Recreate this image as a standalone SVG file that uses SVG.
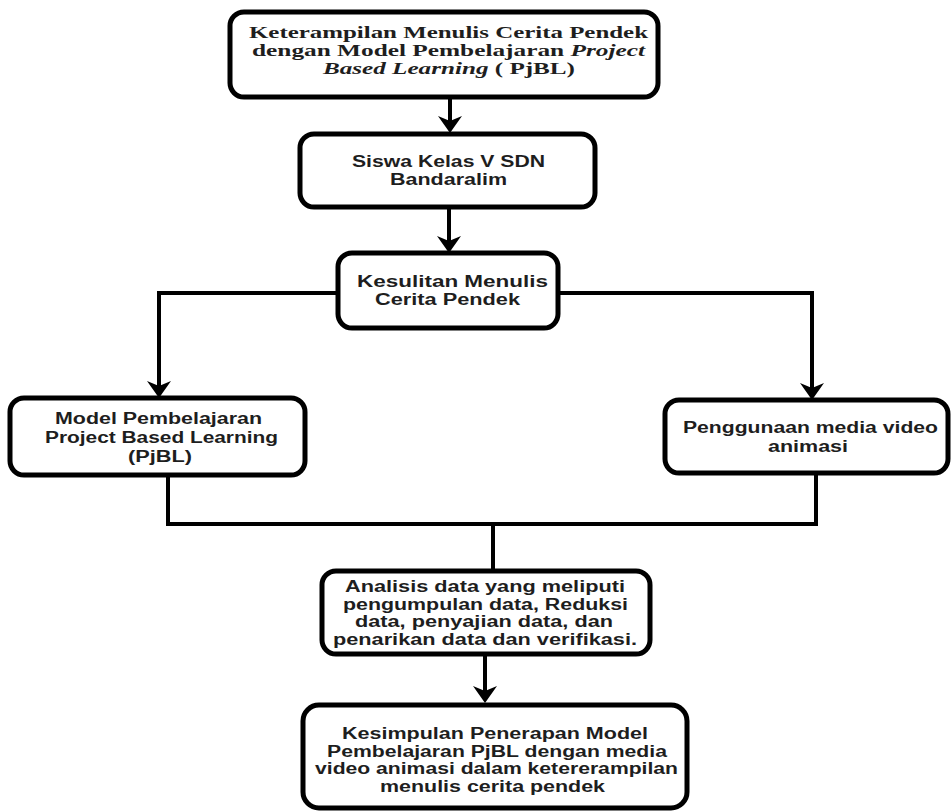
<svg xmlns="http://www.w3.org/2000/svg" width="951" height="812" viewBox="0 0 951 812">
<style>
.box{fill:#fff;stroke:#000;stroke-width:5}
.t{font-family:"Liberation Sans",Arial,sans-serif;font-weight:bold;font-size:16px;fill:#1e1e1e}
.s{font-family:"Liberation Serif","Times New Roman",serif;font-weight:bold;font-size:17px;fill:#1e1e1e}
.c{fill:none;stroke:#000;stroke-width:4}
.a{fill:none;stroke:#000;stroke-width:4;marker-end:url(#ah)}
</style>
<defs>
<marker id="ah" markerUnits="userSpaceOnUse" viewBox="0 -12 17 24" refX="5" refY="0" markerWidth="17" markerHeight="24" orient="auto">
<path d="M17,0 L0,-12 L5,0 L0,12 Z" fill="#000"/>
</marker>
</defs>
<rect width="951" height="812" fill="#fff"/>
<g id="connectors">
<line class="a" x1="450" y1="97" x2="450" y2="121"/>
<line class="a" x1="449" y1="207" x2="449" y2="241"/>
<polyline class="a" points="338,293 159,293 159,386"/>
<polyline class="a" points="558,293 812,293 812,388"/>
<polyline class="c" points="168,474 168,524 816,524 816,474"/>
<line class="c" x1="493" y1="524" x2="493" y2="571"/>
<line class="a" x1="485" y1="654" x2="485" y2="691"/>
</g>
<g id="n1">
<rect class="box" x="230" y="12" width="428" height="85" rx="14"/>
<text class="s" x="249" y="38" textLength="399" lengthAdjust="spacingAndGlyphs">Keterampilan Menulis Cerita Pendek</text>
<text class="s" x="252" y="56" textLength="393" lengthAdjust="spacingAndGlyphs">dengan Model Pembelajaran <tspan font-style="italic">Project</tspan></text>
<text class="s" x="323" y="74" textLength="252" lengthAdjust="spacingAndGlyphs"><tspan font-style="italic">Based Learning</tspan> ( PjBL)</text>
</g>
<g id="n2">
<rect class="box" x="300" y="134" width="295" height="73" rx="14"/>
<text class="t" x="352" y="167" textLength="193" lengthAdjust="spacingAndGlyphs">Siswa Kelas V SDN</text>
<text class="t" x="390" y="185" textLength="117" lengthAdjust="spacingAndGlyphs">Bandaralim</text>
</g>
<g id="n3">
<rect class="box" x="338" y="253" width="220" height="75" rx="14"/>
<text class="t" x="357" y="287" textLength="191" lengthAdjust="spacingAndGlyphs">Kesulitan Menulis</text>
<text class="t" x="375" y="305" textLength="145" lengthAdjust="spacingAndGlyphs">Cerita Pendek</text>
</g>
<g id="n4">
<rect class="box" x="10" y="398" width="295" height="77" rx="14"/>
<text class="t" x="55" y="424" textLength="207" lengthAdjust="spacingAndGlyphs">Model Pembelajaran</text>
<text class="t" x="45" y="443" textLength="233" lengthAdjust="spacingAndGlyphs">Project Based Learning</text>
<text class="t" x="128" y="462" textLength="64" lengthAdjust="spacingAndGlyphs">(PjBL)</text>
</g>
<g id="n5">
<rect class="box" x="665" y="400" width="283" height="73" rx="14"/>
<text class="t" x="683" y="433" textLength="255" lengthAdjust="spacingAndGlyphs">Penggunaan media video</text>
<text class="t" x="768" y="452" textLength="80" lengthAdjust="spacingAndGlyphs">animasi</text>
</g>
<g id="n6">
<rect class="box" x="322" y="571" width="328" height="83" rx="14"/>
<text class="t" x="345" y="592" textLength="280" lengthAdjust="spacingAndGlyphs">Analisis data yang meliputi</text>
<text class="t" x="343" y="609.5" textLength="285" lengthAdjust="spacingAndGlyphs">pengumpulan data, Reduksi</text>
<text class="t" x="355" y="627" textLength="258" lengthAdjust="spacingAndGlyphs">data, penyajian data, dan</text>
<text class="t" x="333" y="644.5" textLength="304" lengthAdjust="spacingAndGlyphs">penarikan data dan verifikasi.</text>
</g>
<g id="n7">
<rect class="box" x="303" y="705" width="384" height="103" rx="16"/>
<text class="t" x="342" y="739" textLength="306" lengthAdjust="spacingAndGlyphs">Kesimpulan Penerapan Model</text>
<text class="t" x="327" y="756.5" textLength="340" lengthAdjust="spacingAndGlyphs">Pembelajaran PjBL dengan media</text>
<text class="t" x="315" y="774" textLength="363" lengthAdjust="spacingAndGlyphs">video animasi dalam ketererampilan</text>
<text class="t" x="380" y="791.5" textLength="225" lengthAdjust="spacingAndGlyphs">menulis cerita pendek</text>
</g>
</svg>
